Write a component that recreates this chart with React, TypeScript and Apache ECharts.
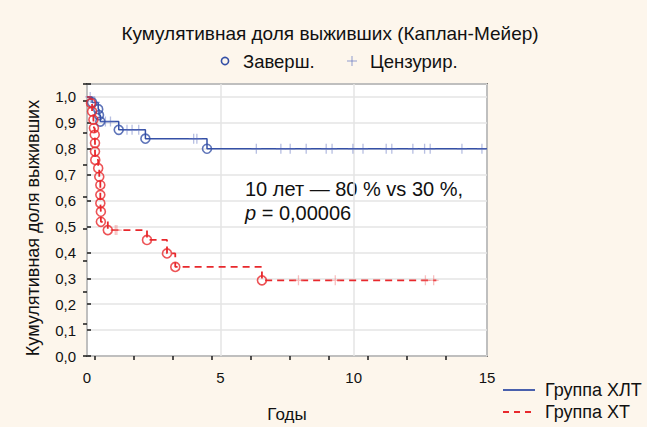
import React, { useEffect, useRef } from "react";
import * as echarts from "echarts";

// ---- data ----
const TITLE = "Кумулятивная доля выживших (Каплан-Мейер)";
const Y_NAME = "Кумулятивная доля выживших";
const X_NAME = "Годы";
const LEGEND_TOP = ["Заверш.", "Цензурир."];
const GROUPS = ["Группа ХЛТ", "Группа ХТ"];
const ANNOT_1 = "10 лет — 80 % vs 30 %,";
const ANNOT_2_P = "p";
const ANNOT_2_REST = " = 0,00006";

// Group ХЛТ (blue) – event times / survival after event
const BLUE_EVENT_T = [0.19, 0.42, 0.45, 0.5, 1.19, 2.19, 4.5];
const BLUE_EVENT_S = [0.979, 0.953, 0.93, 0.905, 0.873, 0.839, 0.8];
const BLUE_CENSOR_T = [0.12, 0.3, 0.69, 0.88, 1.5, 1.69, 1.94, 4.0, 4.12, 6.35, 7.27, 7.62, 8.22, 8.97, 9.19, 9.97, 10.35, 11.22, 11.43, 12.22, 12.66, 12.87, 14.06, 14.81];
const BLUE_END_T = 15;

// Group ХТ (red)
const RED_EVENT_T = [0.15, 0.19, 0.24, 0.26, 0.29, 0.3, 0.3, 0.31, 0.42, 0.46, 0.5, 0.5, 0.5, 0.52, 0.52, 0.78, 2.25, 3.0, 3.31, 6.56];
const RED_EVENT_S = [0.976, 0.944, 0.912, 0.88, 0.854, 0.822, 0.789, 0.757, 0.725, 0.692, 0.66, 0.622, 0.59, 0.557, 0.518, 0.486, 0.448, 0.396, 0.344, 0.292];
const RED_CENSOR_T = [1.06, 1.12, 7.93, 9.31, 12.69, 13.0];
const RED_END_T = 13.1;

const BLUE = "#3550a6";
const RED = "#e8282c";
const BLUE_LIGHT = "rgba(90,110,190,0.55)";
const RED_LIGHT = "rgba(240,110,110,0.55)";
const BG = "#fdf6ec";

function stepLine(ts: number[], ss: number[], end: number) {
  const pts: number[][] = [[0, 1]];
  ts.forEach((t, i) => pts.push([t, ss[i]]));
  pts.push([end, ss[ss.length - 1]]);
  return pts;
}
function survAt(ts: number[], ss: number[], t: number) {
  let s = 1;
  ts.forEach((et, i) => {
    if (et <= t) s = ss[i];
  });
  return s;
}

const PLUS = "path://M0,-5L0,5M-5,0L5,0";

export default function App() {
  const ref = useRef<HTMLDivElement>(null);
  useEffect(() => {
    if (!ref.current) return;
    const chart = echarts.init(ref.current, null, { renderer: "svg" });
    const font = "'Liberation Sans', Arial, sans-serif";
    chart.setOption({
      animation: false,
      backgroundColor: BG,
      grid: {
        left: 87,
        right: 160,
        top: 84,
        bottom: 71,
        show: true,
        backgroundColor: "#ffffff",
        borderColor: "#1a1a1a",
        borderWidth: 1.5,
      },
      xAxis: [
        {
          type: "value",
          min: 0,
          max: 15,
          interval: 5,
          axisLine: { show: false },
          axisTick: { show: false },
          splitLine: { show: true, lineStyle: { color: "#e4e4e4", width: 1.5 } },
          axisLabel: { color: "#111", fontSize: 15, fontFamily: font, margin: 14 },
        },
        {
          type: "value",
          position: "top",
          min: 0,
          max: 10.26,
          axisLine: { show: false },
          axisTick: {
            show: true,
            inside: true,
            length: 4,
            lineStyle: { color: "#1a1a1a", width: 1.5 },
            customValues: [0.2, 1.2, 2.2, 3.2, 4.2, 5.2, 6.2, 7.2, 8.2, 9.2],
          },
          axisLabel: { show: false },
          splitLine: { show: false },
        },
      ],
      yAxis: [
        {
          type: "value",
          min: 0,
          max: 1.05,
          interval: 0.1,
          axisLine: { show: false },
          axisTick: { show: true, inside: true, length: 4, lineStyle: { color: "#1a1a1a", width: 1.5 } },
          splitLine: { show: true, lineStyle: { color: "#e4e4e4", width: 1.5 } },
          axisLabel: {
            color: "#111",
            fontSize: 15,
            fontFamily: font,
            margin: 11,
            formatter: (v: number) =>
              Math.abs(v * 10 - Math.round(v * 10)) > 1e-6 ? "" : v.toFixed(1).replace(".", ","),
          },
        },
        {
          type: "value",
          position: "right",
          min: 0,
          max: 8.53,
          interval: 1,
          axisLine: { show: false },
          axisTick: { show: true, inside: true, length: 4, lineStyle: { color: "#1a1a1a", width: 1.5 } },
          axisLabel: { show: false },
          splitLine: { show: false },
        },
      ],
      series: [
        {
          type: "line",
          step: "end",
          data: stepLine(BLUE_EVENT_T, BLUE_EVENT_S, BLUE_END_T),
          showSymbol: false,
          lineStyle: { color: BLUE, width: 1.5 },
          z: 3,
        },
        {
          type: "line",
          step: "end",
          data: stepLine(RED_EVENT_T, RED_EVENT_S, RED_END_T),
          showSymbol: false,
          lineStyle: { color: RED, width: 1.8, type: [7, 5] },
          z: 3,
        },
        {
          type: "scatter",
          data: BLUE_CENSOR_T.map((t) => [t, survAt(BLUE_EVENT_T, BLUE_EVENT_S, t)]),
          symbol: PLUS,
          symbolSize: 10,
          itemStyle: { color: "none", borderColor: BLUE_LIGHT, borderWidth: 1.3 },
          z: 4,
        },
        {
          type: "scatter",
          data: RED_CENSOR_T.map((t) => [t, survAt(RED_EVENT_T, RED_EVENT_S, t)]),
          symbol: PLUS,
          symbolSize: 10,
          itemStyle: { color: "none", borderColor: RED_LIGHT, borderWidth: 1.3 },
          z: 4,
        },
        {
          type: "scatter",
          data: BLUE_EVENT_T.map((t, i) => [t, BLUE_EVENT_S[i]]),
          symbol: "circle",
          symbolSize: 9,
          itemStyle: { color: "rgba(255,255,255,0)", borderColor: BLUE, borderWidth: 1.6 },
          z: 5,
        },
        {
          type: "scatter",
          data: RED_EVENT_T.map((t, i) => [t, RED_EVENT_S[i]]),
          symbol: "circle",
          symbolSize: 9,
          itemStyle: { color: "rgba(255,255,255,0)", borderColor: RED, borderWidth: 1.6 },
          z: 5,
        },
      ],
      graphic: [
        {
          type: "text",
          x: 330,
          y: 33,
          style: { text: TITLE, fontSize: 19, fontFamily: font, fill: "#111", align: "center", verticalAlign: "middle" },
        },
        {
          type: "circle",
          shape: { cx: 225, cy: 61, r: 3.6 },
          style: { fill: "none", stroke: BLUE, lineWidth: 1.6 },
        },
        {
          type: "text",
          x: 243,
          y: 61,
          style: { text: LEGEND_TOP[0], fontSize: 18.5, fontFamily: font, fill: "#111", align: "left", verticalAlign: "middle" },
        },
        { type: "line", shape: { x1: 352, y1: 56, x2: 352, y2: 66 }, style: { stroke: BLUE_LIGHT, lineWidth: 1.2 } },
        { type: "line", shape: { x1: 347, y1: 61, x2: 357, y2: 61 }, style: { stroke: BLUE_LIGHT, lineWidth: 1.2 } },
        {
          type: "text",
          x: 370,
          y: 61,
          style: { text: LEGEND_TOP[1], fontSize: 18.5, fontFamily: font, fill: "#111", align: "left", verticalAlign: "middle" },
        },
        {
          type: "text",
          x: 33,
          y: 228,
          rotation: Math.PI / 2,
          style: { text: Y_NAME, fontSize: 18, fontFamily: font, fill: "#111", align: "center", verticalAlign: "middle" },
        },
        {
          type: "text",
          x: 287,
          y: 414,
          style: { text: X_NAME, fontSize: 17, fontFamily: font, fill: "#111", align: "center", verticalAlign: "middle" },
        },
        { type: "line", shape: { x1: 503, y1: 390, x2: 535, y2: 390 }, style: { stroke: BLUE, lineWidth: 1.8 } },
        {
          type: "text",
          x: 545,
          y: 390,
          style: { text: GROUPS[0], fontSize: 18, fontFamily: font, fill: "#111", align: "left", verticalAlign: "middle" },
        },
        {
          type: "line",
          shape: { x1: 503, y1: 412, x2: 535, y2: 412 },
          style: { stroke: RED, lineWidth: 1.8, lineDash: [6, 5] },
        },
        {
          type: "text",
          x: 545,
          y: 412,
          style: { text: GROUPS[1], fontSize: 18, fontFamily: font, fill: "#111", align: "left", verticalAlign: "middle" },
        },
        {
          type: "text",
          x: 245,
          y: 189,
          style: { text: ANNOT_1, fontSize: 20, fontFamily: font, fill: "#111", align: "left", verticalAlign: "middle" },
        },
        {
          type: "text",
          x: 245,
          y: 213,
          style: {
            text: "{i|" + ANNOT_2_P + "}{n|" + ANNOT_2_REST + "}",
            align: "left",
            verticalAlign: "middle",
            rich: {
              i: { fontSize: 20, fontFamily: font, fontStyle: "italic", fill: "#111" },
              n: { fontSize: 20, fontFamily: font, fill: "#111" },
            },
          },
        },
      ],
    });
    return () => chart.dispose();
  }, []);
  return <div ref={ref} style={{ width: 647, height: 427, position: "fixed", left: 0, top: 0 }} />;
}
